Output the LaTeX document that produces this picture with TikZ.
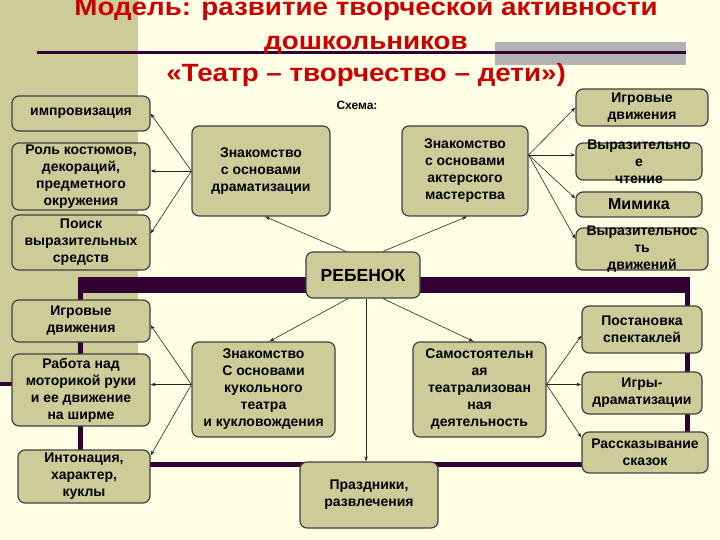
\documentclass[tikz,border=0pt]{standalone}
\usepackage{graphicx}
\usepackage{fontspec}
\setmainfont{Liberation Sans}
\usetikzlibrary{arrows.meta,calc}
\definecolor{bg}{RGB}{255,255,229}
\definecolor{khaki}{RGB}{204,204,153}
\definecolor{boxfill}{RGB}{204,204,153}
\definecolor{framec}{RGB}{51,0,51}
\definecolor{titlered}{RGB}{204,0,0}
\definecolor{greyrect}{RGB}{178,178,178}
\definecolor{edge}{RGB}{64,64,64}
\tikzset{
  box/.style={draw=edge, fill=boxfill, rounded corners=7pt, line width=1.2pt,
    align=center, inner sep=0pt, font=\bfseries\fontsize{14}{17}\selectfont},
  lbl/.style={align=center, inner sep=0pt, font=\bfseries\fontsize{14}{17}\selectfont},
  conn/.style={draw=black!85, line width=0.6pt, -{Stealth[length=5pt,width=3.5pt]}},
  ttl/.style={text=titlered, anchor=base, inner sep=0pt, font=\bfseries\fontsize{25}{30}\selectfont},
  bar/.style={draw=framec, line cap=rect}
}
\begin{document}
\begin{tikzpicture}[x=1pt,y=-1pt]
\useasboundingbox (0,0) rectangle (720,540);
\clip (0,0) rectangle (720,540);
\fill[bg] (0,0) rectangle (720,540);
\fill[khaki] (0,0) rectangle (138,384);
% frame
\draw[bar, line width=4pt] (0,384) -- (80,384);
\fill[framec] (78,277) rectangle (690,293);
\fill[framec] (78,277) rectangle (83,467);
\fill[framec] (685,277) rectangle (690,467);
\fill[framec] (78,462) rectangle (690,467);
% title
\fill[greyrect] (495,42) rectangle (686,65);
\draw[framec, line width=3pt] (37,53) -- (686,53);
\node[ttl] (t1) at (366,16) {\scalebox{1.11}[1]{Модель: развитие творческой активности}};
\node[ttl] (t2) at (366,50) {\scalebox{1.11}[1]{дошкольников}};
\node[ttl] (t3) at (366,82) {\scalebox{1.11}[1]{«Театр – творчество – дети»)}};
\node[lbl, font=\bfseries\fontsize{12}{14}\selectfont] (schema) at (357,105) {Схема:};
% boxes
\node[box, minimum width=138pt, minimum height=35pt] (imp) at (81,113.5) {импровизация};
\node[box, minimum width=138pt, minimum height=67pt] (rol) at (81,176.5) {Роль костюмов,\\декораций,\\предметного\\окружения};
\node[box, minimum width=138pt, minimum height=55pt] (poisk) at (81,242.5) {Поиск\\выразительных\\средств};
\node[box, minimum width=138pt, minimum height=90pt] (drama) at (261,171) {Знакомство\\с основами\\драматизации};
\node[box, minimum width=126pt, minimum height=90pt] (actor) at (465,171) {Знакомство\\с основами\\актерского\\мастерства};
\node[box, minimum width=132pt, minimum height=37pt] (ig1) at (642,107.5) {Игровые\\движения};
\node[box, minimum width=126pt, minimum height=37pt] (vyr) at (639,161.5) {};
\node[lbl] at (vyr) {Выразительно\\е\\чтение};
\node[box, minimum width=126pt, minimum height=25pt, font=\bfseries\fontsize{16}{17}\selectfont] (mim) at (639,204.5) {Мимика};
\node[box, minimum width=132pt, minimum height=42pt] (vyrd) at (642,249) {};
\node[lbl] at (vyrd) {Выразительнос\\ть\\движений};
\node[box, minimum width=114pt, minimum height=46pt, font=\bfseries\fontsize{17.5}{19}\selectfont] (reb) at (363,275) {РЕБЕНОК};
\node[box, minimum width=138pt, minimum height=42pt] (ig2) at (81,321) {Игровые\\движения};
\node[box, minimum width=138pt, minimum height=72pt] (rab) at (81,390) {Работа над\\моторикой руки\\и ее движение\\на ширме};
\node[box, minimum width=132pt, minimum height=53pt] (inton) at (84,476.5) {Интонация,\\характер,\\куклы};
\node[box, minimum width=143pt, minimum height=95pt] (kuk) at (263.5,389.5) {Знакомство\\С основами\\кукольного\\театра\\и кукловождения};
\node[box, minimum width=138pt, minimum height=66pt] (prazd) at (369,495) {Праздники,\\развлечения};
\node[box, minimum width=133pt, minimum height=95pt] (sam) at (479.5,389.5) {Самостоятельн\\ая\\театрализован\\ная\\деятельность};
\node[box, minimum width=120pt, minimum height=47pt] (post) at (642,329.5) {Постановка\\спектаклей};
\node[box, minimum width=120pt, minimum height=42pt] (igry) at (642,393) {Игры-\\драматизации};
\node[box, minimum width=126pt, minimum height=41pt] (rass) at (645,452.5) {Рассказывание\\сказок};
% connectors
\draw[conn] (drama.west) -- (imp.east);
\draw[conn] (drama.west) -- (drama.west -| rol.east);
\draw[conn] (drama.west) -- ([yshift=9pt]poisk.east);
\draw[conn] ([xshift=-17pt]reb.north) -- ([xshift=4pt]drama.south);
\draw[conn] ([xshift=20pt]reb.north) -- ([xshift=2pt]actor.south);
\coordinate (ao) at ([yshift=16pt]actor.east);
\draw[conn] (ao) -- (ig1.west);
\draw[conn] (ao) -- (ao -| vyr.west);
\draw[conn] (ao) -- ([yshift=6pt]mim.west);
\draw[conn] (ao) -- ([yshift=10pt]vyrd.west);
\draw[conn] ([xshift=-15pt]reb.south) -- ([xshift=6pt]kuk.north);
\coordinate (ko) at ([yshift=5pt]kuk.west);
\draw[conn] (ko) -- ([yshift=-4pt]ig2.east);
\draw[conn] (ko) -- (ko -| rab.east);
\draw[conn] (ko) -- ([yshift=21pt]inton.east);
\draw[conn] ([xshift=3pt]reb.south) -- ([xshift=3pt]reb.south |- prazd.north);
\draw[conn] ([xshift=20pt]reb.south) -- ([xshift=-6pt]sam.north);
\coordinate (so) at ([yshift=5pt]sam.east);
\draw[conn] (so) -- ([yshift=-6pt]post.west);
\draw[conn] (so) -- (so -| igry.west);
\draw[conn] (so) -- ([yshift=15pt]rass.west);
\end{tikzpicture}
\end{document}
